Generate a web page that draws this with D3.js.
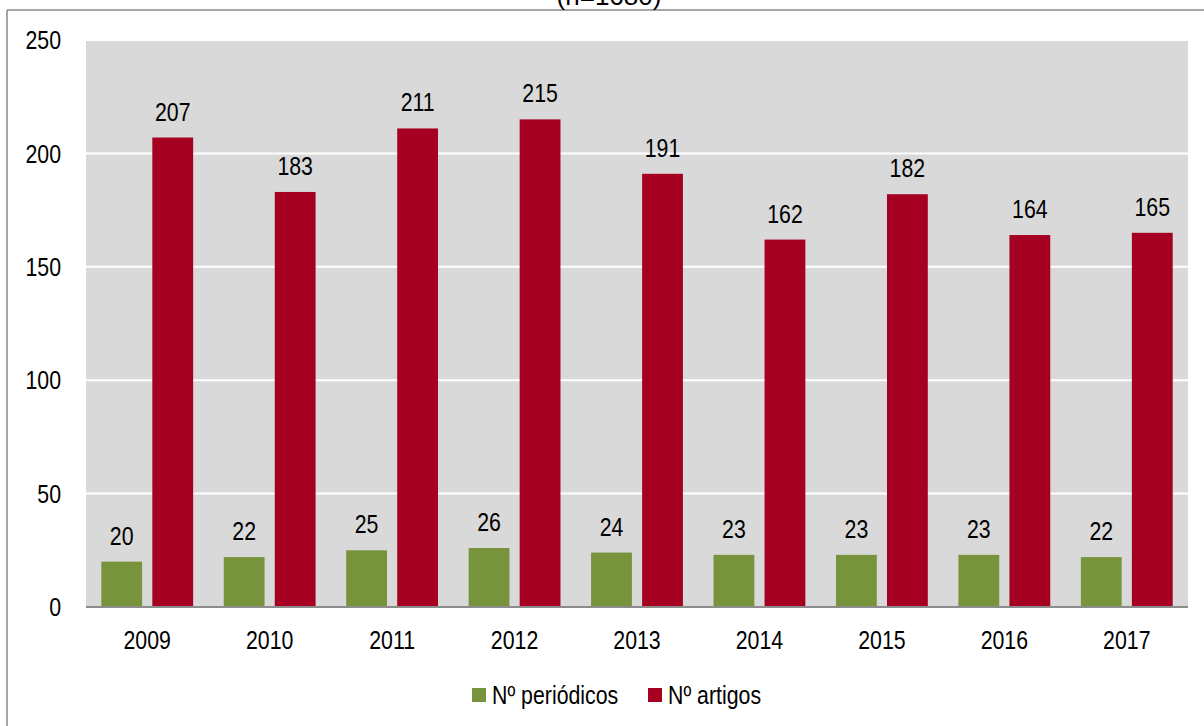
<!DOCTYPE html>
<html lang="pt">
  <head>
    <meta charset="utf-8" />
    <script src="https://d3js.org/d3.v7.min.js"></script>
    <style>
      body {
        margin: 0;
        background: #fff;
      }
      text {
        font-family: "Liberation Sans Narrow", "Arial Narrow", "Liberation Sans", sans-serif;
        font-size: 26px;
        fill: #000;
      }
    </style>
  </head>
  <body>
    <script>
      // data
      var years = ["2009", "2010", "2011", "2012", "2013", "2014", "2015", "2016", "2017"];
      var periodicos = [20, 22, 25, 26, 24, 23, 23, 23, 22];
      var artigos = [207, 183, 211, 215, 191, 162, 182, 164, 165];
      var seriesNames = ["Nº periódicos", "Nº artigos"];
      var yTicks = [0, 50, 100, 150, 200, 250];
      var title = "(n=1680)";

      var colors = ["#77933c", "#a50021"];

      var width = 1204,
        height = 726;

      // narrow look: squeeze the regular sans horizontally
      var squeeze = 0.82;
      function place(x, y) {
        return "translate(" + x + "," + y + ") scale(" + squeeze + ",1)";
      }

      var svg = d3
        .select("body")
        .append("svg")
        .attr("width", width)
        .attr("height", height);

      // outer frame (only top and left edge visible)
      svg
        .append("line")
        .attr("x1", 7)
        .attr("x2", width)
        .attr("y1", 10)
        .attr("y2", 10)
        .attr("stroke", "#888")
        .attr("stroke-width", 1.5);
      svg
        .append("line")
        .attr("x1", 7)
        .attr("x2", 7)
        .attr("y1", 10)
        .attr("y2", height)
        .attr("stroke", "#888")
        .attr("stroke-width", 1.5);

      // title, mostly cut off at the top
      svg
        .append("text")
        .attr("x", 609)
        .attr("y", 5)
        .attr("text-anchor", "middle")
        .text(title);

      var plotL = 86,
        plotR = 1188,
        plotT = 40,
        plotB = 607;

      var y = d3.scaleLinear().domain([0, 250]).range([plotB, plotT]);

      var x0 = d3
        .scaleBand()
        .domain(years)
        .range([plotL, plotR])
        .paddingInner(0.25)
        .paddingOuter(0.125);

      var x1 = d3
        .scaleBand()
        .domain([0, 1])
        .range([0, x0.bandwidth()])
        .paddingInner(0.2);

      // plot background
      svg
        .append("rect")
        .attr("x", plotL)
        .attr("y", plotT)
        .attr("width", plotR - plotL)
        .attr("height", plotB - plotT)
        .attr("fill", "#d9d9d9");

      // gridlines
      svg
        .selectAll(".grid")
        .data(yTicks.filter(function (d) {
          return d > 0;
        }))
        .join("line")
        .attr("class", "grid")
        .attr("x1", plotL)
        .attr("x2", plotR)
        .attr("y1", function (d) {
          return y(d);
        })
        .attr("y2", function (d) {
          return y(d);
        })
        .attr("stroke", "#fff")
        .attr("stroke-width", 2);

      // y tick labels
      svg
        .selectAll(".ylab")
        .data(yTicks)
        .join("text")
        .attr("class", "ylab")
        .attr("transform", function (d) {
          return place(61, y(d));
        })
        .attr("dy", "0.35em")
        .attr("text-anchor", "end")
        .text(function (d) {
          return d;
        });

      var rows = years.map(function (yr, i) {
        return { year: yr, values: [periodicos[i], artigos[i]] };
      });

      var groups = svg
        .selectAll(".grp")
        .data(rows)
        .join("g")
        .attr("class", "grp")
        .attr("transform", function (d) {
          return "translate(" + x0(d.year) + ",0)";
        });

      groups
        .selectAll("rect")
        .data(function (d) {
          return d.values;
        })
        .join("rect")
        .attr("x", function (d, i) {
          return x1(i);
        })
        .attr("y", function (d) {
          return y(d);
        })
        .attr("width", x1.bandwidth())
        .attr("height", function (d) {
          return plotB - y(d);
        })
        .attr("fill", function (d, i) {
          return colors[i];
        });

      // value labels above bars
      groups
        .selectAll(".val")
        .data(function (d) {
          return d.values;
        })
        .join("text")
        .attr("class", "val")
        .attr("transform", function (d, i) {
          return place(x1(i) + x1.bandwidth() / 2, y(d) - 17);
        })
        .attr("text-anchor", "middle")
        .text(function (d) {
          return d;
        });

      // x axis line
      svg
        .append("line")
        .attr("x1", plotL)
        .attr("x2", plotR)
        .attr("y1", plotB)
        .attr("y2", plotB)
        .attr("stroke", "#8c8c8c")
        .attr("stroke-width", 2);

      // year labels
      svg
        .selectAll(".xlab")
        .data(years)
        .join("text")
        .attr("class", "xlab")
        .attr("transform", function (d) {
          return place(x0(d) + x0.bandwidth() / 2, 649);
        })
        .attr("text-anchor", "middle")
        .text(function (d) {
          return d;
        });

      // legend
      var legendX = [472, 648];
      var legend = svg
        .selectAll(".leg")
        .data(seriesNames)
        .join("g")
        .attr("class", "leg")
        .attr("transform", function (d, i) {
          return "translate(" + legendX[i] + ",688)";
        });
      legend
        .append("rect")
        .attr("width", 14)
        .attr("height", 14)
        .attr("fill", function (d, i) {
          return colors[i];
        });
      legend
        .append("text")
        .attr("transform", place(20, 16))
        .text(function (d) {
          return d;
        });
    </script>
  </body>
</html>
